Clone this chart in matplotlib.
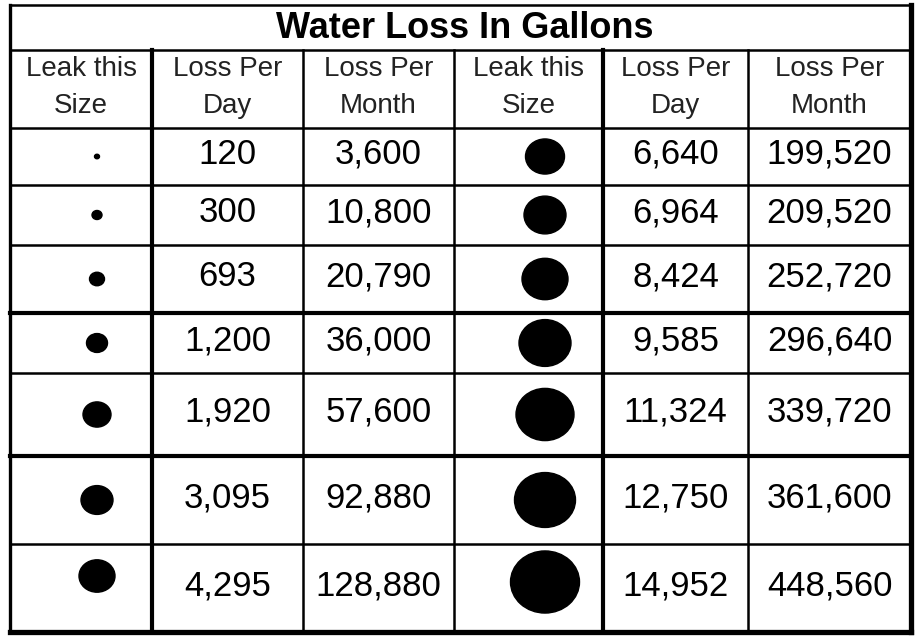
import matplotlib.pyplot as plt
from matplotlib.patches import Ellipse

plt.rcParams['font.family'] = ['Liberation Sans', 'DejaVu Sans']

# Datos de la tabla
titulo = "Water Loss In Gallons"
encabezados = ["Leak this\nSize", "Loss Per\nDay", "Loss Per\nMonth"] * 2

dia_izq = [120, 300, 693, 1200, 1920, 3095, 4295]
mes_izq = [3600, 10800, 20790, 36000, 57600, 92880, 128880]
dia_der = [6640, 6964, 8424, 9585, 11324, 12750, 14952]
mes_der = [199520, 209520, 252720, 296640, 339720, 361600, 448560]

# diametro aproximado del punto de fuga (px en la imagen)
fuga_izq = [5, 10, 15, 21, 28, 32, 36]
fuga_der = [39, 42, 46, 52, 58, 61, 69]

# Geometria (pixeles)
W, H = 916, 636
col_x = [10, 152, 303, 454, 603, 748, 911]
fila_y = [128, 185, 245, 313, 373, 456, 544, 632]
top, title_bot = 5, 50

fig = plt.figure(figsize=(W / 100, H / 100), dpi=100)
ax = fig.add_axes([0, 0, 1, 1])
ax.set_xlim(0, W)
ax.set_ylim(H, 0)
ax.axis('off')

lw, lw_g = 1.8, 3.0
col_lineas = 'black'

# bordes exteriores
ax.plot([col_x[0], col_x[-1]], [top, top], color=col_lineas, lw=lw)
ax.plot([col_x[0], col_x[0]], [top, fila_y[-1]], color=col_lineas, lw=lw_g - 0.6)
ax.plot([col_x[-1], col_x[-1]], [top, fila_y[-1]], color=col_lineas, lw=lw_g + 0.8)
ax.plot([col_x[0], col_x[-1]], [fila_y[-1], fila_y[-1]], color=col_lineas, lw=lw_g + 0.8)
ax.plot([col_x[0], col_x[-1]], [title_bot, title_bot], color=col_lineas, lw=lw)

# lineas verticales internas
for i, x in enumerate(col_x[1:-1], start=1):
    grosor = lw_g if i in (1, 4) else lw
    ax.plot([x, x], [title_bot, fila_y[-1]], color=col_lineas, lw=grosor)

# lineas horizontales internas
for y in fila_y[:-1]:
    grosor = lw_g if y in (313, 456) else lw
    ax.plot([col_x[0], col_x[-1]], [y, y], color=col_lineas, lw=grosor)

# titulo
ax.text((col_x[0] + col_x[-1]) / 2 + 4, (top + title_bot) / 2 + 1, titulo,
        ha='center', va='center', fontsize=26, fontweight='bold')

# encabezados
for j, txt in enumerate(encabezados):
    cx = (col_x[j] + col_x[j + 1]) / 2
    l1, l2 = txt.split("\n")
    ax.text(cx, 69, l1, ha='center', va='center', fontsize=20, color='#222222')
    ax.text(cx, 106, l2, ha='center', va='center', fontsize=20, color='#222222')

# filas de datos
for i in range(len(dia_izq)):
    cy = (fila_y[i] + fila_y[i + 1]) / 2
    valores = [dia_izq[i], mes_izq[i], dia_der[i], mes_der[i]]
    cols = [1, 2, 4, 5]
    for v, j in zip(valores, cols):
        cx = (col_x[j] + col_x[j + 1]) / 2
        ax.text(cx, cy - 2, f"{v:,}", ha='center', va='center', fontsize=25)

    # puntos de fuga (la ultima fila va algo mas arriba)
    dy = -12 if i == len(dia_izq) - 1 else 0
    d1, d2 = fuga_izq[i], fuga_der[i]
    ax.add_patch(Ellipse((97, cy + dy), d1, d1 * 0.9, color='black'))
    ax.add_patch(Ellipse((545, cy + dy / 2), d2, d2 * 0.9, color='black'))

plt.savefig("out.png", dpi=100)
